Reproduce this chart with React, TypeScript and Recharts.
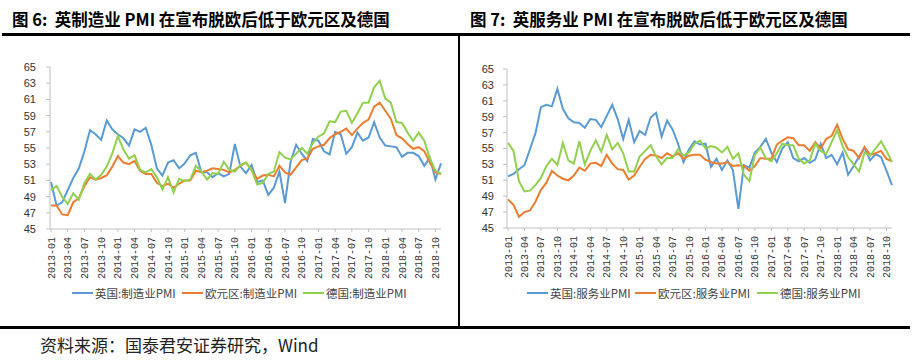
import { Line, LineChart, XAxis, YAxis } from "recharts";

const months = [
  "2013-01", "2013-02", "2013-03", "2013-04", "2013-05", "2013-06", "2013-07", "2013-08", "2013-09", "2013-10", "2013-11", "2013-12",
  "2014-01", "2014-02", "2014-03", "2014-04", "2014-05", "2014-06", "2014-07", "2014-08", "2014-09", "2014-10", "2014-11", "2014-12",
  "2015-01", "2015-02", "2015-03", "2015-04", "2015-05", "2015-06", "2015-07", "2015-08", "2015-09", "2015-10", "2015-11", "2015-12",
  "2016-01", "2016-02", "2016-03", "2016-04", "2016-05", "2016-06", "2016-07", "2016-08", "2016-09", "2016-10", "2016-11", "2016-12",
  "2017-01", "2017-02", "2017-03", "2017-04", "2017-05", "2017-06", "2017-07", "2017-08", "2017-09", "2017-10", "2017-11", "2017-12",
  "2018-01", "2018-02", "2018-03", "2018-04", "2018-05", "2018-06", "2018-07", "2018-08", "2018-09", "2018-10", "2018-11",
];

// manufacturing PMI
const ukMfg = [
  50.8, 47.9, 48.3, 49.8, 51.3, 52.5, 54.6, 57.2, 56.7, 56.0, 58.4, 57.3,
  56.7, 56.2, 55.3, 57.3, 57.0, 57.5, 55.4, 52.5, 51.6, 53.2, 53.5, 52.5,
  53.1, 54.1, 54.4, 52.0, 52.0, 51.4, 51.9, 51.5, 51.8, 55.5, 52.7, 51.9,
  52.9, 50.8, 51.0, 49.2, 50.1, 52.1, 48.2, 53.3, 55.4, 54.3, 53.4, 56.1,
  55.9, 54.6, 54.2, 57.0, 56.7, 54.3, 55.1, 56.9, 55.9, 56.3, 58.2, 56.3,
  55.3, 55.2, 55.1, 53.9, 54.4, 54.4, 54.0, 52.8, 53.8, 51.1, 53.1,
];
const ezMfg = [
  47.9, 47.9, 46.8, 46.7, 48.3, 48.8, 50.3, 51.4, 51.1, 51.3, 51.6, 52.7,
  54.0, 53.2, 53.0, 53.4, 52.2, 51.8, 51.8, 50.7, 50.3, 50.6, 50.1, 50.6,
  51.0, 51.0, 52.2, 52.0, 52.2, 52.5, 52.4, 52.3, 52.0, 52.3, 52.8, 53.2,
  52.3, 51.2, 51.6, 51.7, 51.5, 52.8, 52.0, 51.7, 52.6, 53.5, 53.7, 54.9,
  55.2, 55.4, 56.2, 56.7, 57.0, 57.4, 56.6, 57.4, 58.1, 58.5, 60.1, 60.6,
  59.6, 58.6, 56.6, 56.2, 55.5, 54.9, 55.1, 54.6, 53.2, 52.0, 51.8,
];
const deMfg = [
  49.8, 50.3, 49.0, 48.1, 49.4, 48.6, 50.7, 51.8, 51.1, 51.7, 52.7, 54.3,
  56.5, 54.8, 53.7, 54.1, 52.3, 52.0, 52.4, 51.4, 49.9, 51.4, 49.5, 51.2,
  50.9, 51.1, 52.8, 52.1, 51.1, 51.9, 51.8, 53.3, 52.3, 52.1, 52.9, 53.2,
  52.3, 50.5, 50.7, 51.8, 52.1, 54.5, 53.8, 53.6, 54.3, 55.0, 54.3, 55.6,
  56.4, 56.8, 58.3, 58.2, 59.5, 59.6, 58.1, 59.3, 60.6, 60.6, 62.5, 63.3,
  61.1, 60.6, 58.2, 58.1, 56.9, 55.9, 56.9, 55.9, 53.7, 52.2, 51.8,
];

// services PMI
const ukSvc = [
  51.5, 51.8, 52.4, 52.9, 54.9, 56.9, 60.2, 60.5, 60.3, 62.5, 60.0, 58.8,
  58.3, 58.2, 57.6, 58.7, 58.6, 57.7, 59.1, 60.5, 58.7, 56.2, 58.6, 55.8,
  57.2, 56.7, 58.9, 59.5, 56.5, 58.5, 57.4, 55.6, 53.3, 54.9, 55.9, 55.5,
  55.6, 52.7, 53.7, 52.3, 53.5, 52.3, 47.4, 52.9, 52.6, 54.5, 55.2, 56.2,
  54.5, 53.3, 55.0, 55.8, 53.8, 53.4, 53.8, 53.2, 53.6, 55.6, 53.8, 54.2,
  53.0, 54.5, 51.7, 52.8, 54.0, 55.1, 53.5, 54.3, 53.9, 52.2, 50.4,
];
const ezSvc = [
  48.6, 47.9, 46.4, 47.0, 47.2, 48.3, 49.8, 50.7, 52.2, 51.6, 51.2, 51.0,
  51.6, 52.6, 52.2, 53.1, 53.2, 52.8, 54.2, 53.1, 52.4, 52.3, 51.1, 51.6,
  52.7, 53.7, 54.2, 54.1, 53.8, 54.4, 54.0, 54.4, 53.7, 54.1, 54.2, 54.2,
  53.6, 53.3, 53.1, 53.1, 53.3, 52.8, 52.9, 52.8, 52.2, 52.8, 53.8, 53.7,
  53.7, 55.5, 56.0, 56.4, 56.3, 55.4, 55.4, 54.7, 55.8, 55.0, 56.2, 56.6,
  58.0, 56.2, 54.9, 54.7, 53.8, 55.2, 54.2, 54.4, 54.7, 53.7, 53.4,
];
const deSvc = [
  55.7, 54.7, 50.9, 49.6, 49.7, 50.4, 51.3, 52.8, 53.7, 52.9, 55.7, 53.5,
  53.1, 55.9, 53.0, 54.7, 56.0, 54.6, 56.7, 54.9, 55.7, 54.4, 52.1, 52.1,
  54.0, 54.7, 55.4, 54.0, 53.0, 53.8, 53.8, 54.9, 54.1, 54.5, 55.6, 56.0,
  55.0, 55.3, 55.1, 54.5, 55.2, 53.7, 54.4, 51.7, 50.9, 54.2, 55.1, 53.8,
  53.4, 54.4, 55.6, 55.4, 55.4, 53.7, 53.1, 53.5, 55.6, 54.7, 54.3, 55.8,
  57.3, 55.3, 53.9, 53.0, 52.1, 54.5, 54.1, 55.0, 55.9, 54.7, 53.3,
];

const yTicks = [45, 47, 49, 51, 53, 55, 57, 59, 61, 63, 65];
const colors = ["#5B9BD5", "#ED7D31", "#92D050"];

const mfgNames = ["英国:制造业PMI", "欧元区:制造业PMI", "德国:制造业PMI"];
const svcNames = ["英国:服务业PMI", "欧元区:服务业PMI", "德国:服务业PMI"];

const titles = [
  "图 6:  英制造业 PMI 在宣布脱欧后低于欧元区及德国",
  "图 7:  英服务业 PMI 在宣布脱欧后低于欧元区及德国",
];
const source = "资料来源：国泰君安证券研究，Wind";

const cjk = '"Noto Sans CJK SC", sans-serif';

const mfgData = months.map((m, i) => ({ month: m, a: ukMfg[i], b: ezMfg[i], c: deMfg[i] }));
const svcData = months.map((m, i) => ({ month: m, a: ukSvc[i], b: ezSvc[i], c: deSvc[i] }));

function XTick({ x, y, payload }: any) {
  return (
    <g transform={`translate(${x},${y})`}>
      <text
        transform="rotate(-90)"
        textAnchor="end"
        dy={3.5}
        fontSize={10}
        fontFamily='"Liberation Mono", monospace'
        fill="#333"
      >
        {payload.value}
      </text>
    </g>
  );
}

type PanelProps = {
  data: Record<string, unknown>[];
  names: string[];
  left: number;
  width: number;
  yWidth: number;
  top: number;
  bottom: number;
  rightEdge: number;
  tickMargin: number;
  legendLeft: number[];
};

function Panel({ data, names, left, width, yWidth, top, bottom, rightEdge, tickMargin, legendLeft }: PanelProps) {
  const height = 300;
  const xh = 50;
  return (
    <>
      <div style={{ position: "absolute", left, top: 0 }}>
        <LineChart
          width={width}
          height={height}
          data={data}
          margin={{ top, right: width - rightEdge, bottom: height - bottom - xh, left: 0 }}
        >
          <XAxis
            dataKey="month"
            interval={2}
            tick={<XTick />}
            tickSize={3}
            tickMargin={5}
            height={xh}
            stroke="#bfbfbf"
            padding={{ left: 1, right: 0 }}
          />
          <YAxis
            domain={[45, 65]}
            ticks={yTicks}
            interval={0}
            width={yWidth}
            tickSize={4}
            tickMargin={tickMargin}
            stroke="#bfbfbf"
            tick={{ fontSize: 11, fill: "#333", fontFamily: '"Liberation Sans", Arial, sans-serif' }}
          />
          {["a", "b", "c"].map((k, i) => (
            <Line
              key={k}
              dataKey={k}
              stroke={colors[i]}
              strokeWidth={2}
              dot={false}
              type="linear"
              isAnimationActive={false}
            />
          ))}
        </LineChart>
      </div>
      {names.map((n, i) => (
        <div
          key={n}
          style={{
            position: "absolute",
            left: legendLeft[i],
            top: 285,
            display: "flex",
            alignItems: "center",
            fontFamily: cjk,
            fontSize: 11.5,
            color: "#444",
            whiteSpace: "nowrap",
          }}
        >
          <span style={{ display: "inline-block", width: 21, height: 2, background: colors[i], marginRight: 2 }} />
          {n}
        </div>
      ))}
    </>
  );
}

export default function App() {
  return (
    <div style={{ position: "absolute", left: 0, top: 0, width: 918, height: 360, background: "#fff", overflow: "hidden" }}>
      <div style={{ position: "absolute", left: 12, top: 7, fontFamily: cjk, fontWeight: 700, fontSize: 16.5, whiteSpace: "pre" }}>
        {titles[0]}
      </div>
      <div style={{ position: "absolute", left: 470, top: 7, fontFamily: cjk, fontWeight: 700, fontSize: 16.5, whiteSpace: "pre" }}>
        {titles[1]}
      </div>
      <div style={{ position: "absolute", left: 2, top: 33, width: 908, height: 3, background: "#000" }} />
      <div style={{ position: "absolute", left: 458, top: 35, width: 2, height: 292, background: "#000" }} />
      <div style={{ position: "absolute", left: 0, top: 326, width: 910, height: 3, background: "#000" }} />
      <Panel
        data={mfgData}
        names={mfgNames}
        left={0}
        width={458}
        yWidth={50}
        top={67}
        bottom={229}
        rightEdge={441}
        tickMargin={10}
        legendLeft={[72, 182, 303]}
      />
      <Panel
        data={svcData}
        names={svcNames}
        left={460}
        width={458}
        yWidth={47}
        top={69}
        bottom={228}
        rightEdge={432}
        tickMargin={9}
        legendLeft={[527, 635, 757]}
      />
      <div style={{ position: "absolute", left: 40, top: 332, fontFamily: cjk, fontSize: 17, color: "#222", whiteSpace: "pre" }}>
        {source}
      </div>
    </div>
  );
}
